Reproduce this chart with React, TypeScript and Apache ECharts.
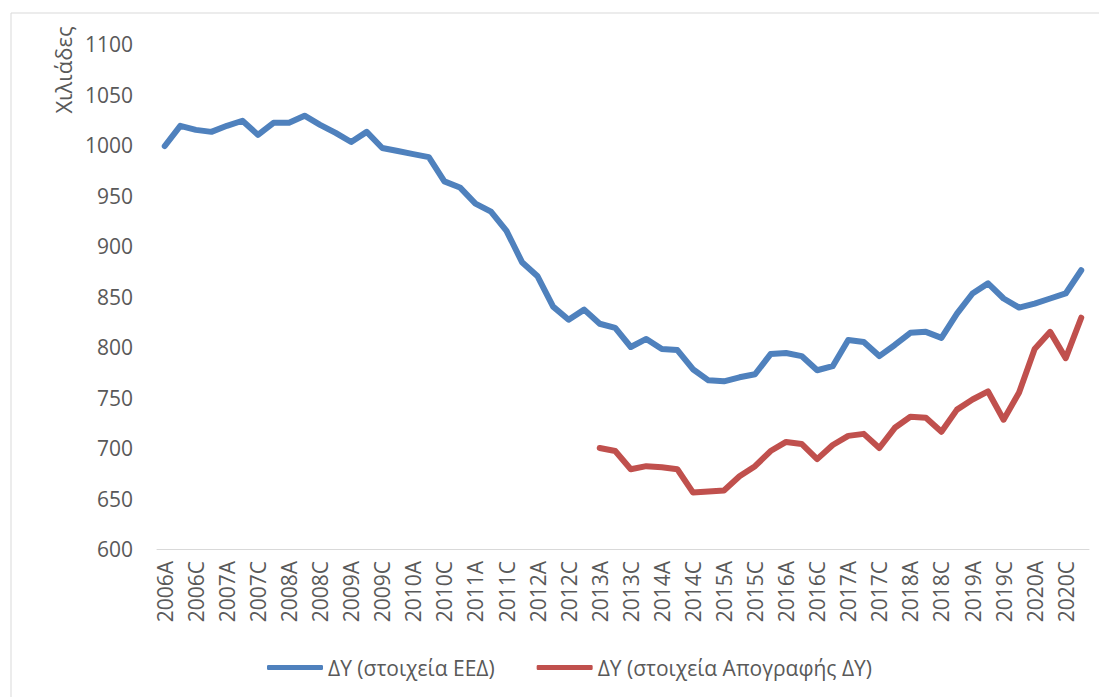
import React, { useEffect, useRef } from "react";
import * as echarts from "echarts";

const years = [2006, 2007, 2008, 2009, 2010, 2011, 2012, 2013, 2014, 2015, 2016, 2017, 2018, 2019, 2020];
const quarters = ["A", "B", "C", "D"];
const categories: string[] = [];
years.forEach((y) => quarters.forEach((q) => categories.push(`${y}${q}`)));

const seriesNames = ["ΔΥ (στοιχεία ΕΕΔ)", "ΔΥ (στοιχεία Απογραφής ΔΥ)"];

const eedValues = [
  999, 1019, 1015, 1013, 1019, 1024, 1010, 1022, 1022, 1029,
  1020, 1012, 1003, 1013, 997, 994, 991, 988, 964, 958,
  942, 934, 915, 884, 870, 840, 827, 837, 823, 819,
  800, 808, 798, 797, 778, 767, 766, 770, 773, 793,
  794, 791, 777, 781, 807, 805, 791, 802, 814, 815,
  809, 833, 853, 863, 848, 839, 843, 848, 853, 876,
];

const censusValues: (number | null)[] = [
  null, null, null, null, null, null, null, null, null, null,
  null, null, null, null, null, null, null, null, null, null,
  null, null, null, null, null, null, null, null, 700, 697,
  679, 682, 681, 679, 656, 657, 658, 672, 682, 697,
  706, 704, 689, 703, 712, 714, 700, 720, 731, 730,
  716, 738, 748, 756, 728, 755, 798, 815, 789, 829,
];

const yTitle = "Χιλιάδες";
const FONT = "'Open Sans', 'Noto Sans', sans-serif";

export default function App() {
  const ref = useRef<HTMLDivElement>(null);
  useEffect(() => {
    if (!ref.current) return;
    const chart = echarts.init(ref.current, null, { renderer: "svg" });
    chart.setOption({
      animation: false,
      backgroundColor: "#ffffff",
      textStyle: { fontFamily: FONT },
      graphic: [
        {
          type: "rect",
          shape: { x: 3, y: 5, width: 1120, height: 720 },
          style: { fill: "none", stroke: "#d9d9d9", lineWidth: 1 },
          silent: true,
        },
        {
          type: "text",
          x: 55,
          y: 62,
          rotation: Math.PI / 2,
          style: {
            text: yTitle,
            fill: "#595959",
            font: `22px ${FONT}`,
            align: "center",
            verticalAlign: "middle",
          },
        },
      ],
      grid: { left: 149, right: 18, top: 36, bottom: 148, containLabel: false },
      legend: {
        left: 254,
        top: 644,
        icon: "roundRect",
        itemWidth: 56,
        itemHeight: 5,
        itemGap: 42,
        textStyle: { color: "#595959", fontSize: 21, fontFamily: FONT },
        data: seriesNames,
      },
      xAxis: {
        type: "category",
        data: categories,
        boundaryGap: true,
        axisLine: { show: true, lineStyle: { color: "#d9d9d9", width: 1 } },
        axisTick: { show: false },
        axisLabel: {
          interval: 1,
          rotate: 90,
          color: "#595959",
          fontSize: 21,
          fontFamily: FONT,
          margin: 12,
        },
      },
      yAxis: {
        type: "value",
        min: 600,
        max: 1100,
        interval: 50,
        axisLine: { show: false },
        axisTick: { show: false },
        splitLine: { show: false },
        axisLabel: {
          color: "#595959",
          fontSize: 21,
          fontFamily: FONT,
          margin: 24,
          formatter: (v: number) => String(v),
        },
      },
      series: [
        {
          name: seriesNames[0],
          type: "line",
          data: eedValues,
          symbol: "none",
          lineStyle: { color: "#4F81BD", width: 6, cap: "round", join: "round" },
          itemStyle: { color: "#4F81BD" },
        },
        {
          name: seriesNames[1],
          type: "line",
          data: censusValues,
          symbol: "none",
          connectNulls: false,
          lineStyle: { color: "#C0504D", width: 6, cap: "round", join: "round" },
          itemStyle: { color: "#C0504D" },
        },
      ],
    });
    return () => chart.dispose();
  }, []);
  return <div ref={ref} style={{ width: 1099, height: 689 }} />;
}
